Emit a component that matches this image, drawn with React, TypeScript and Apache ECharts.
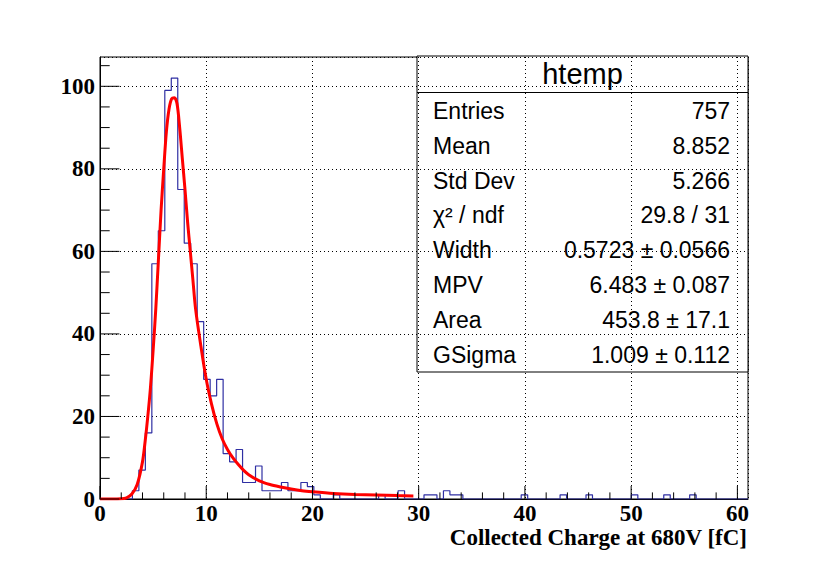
import React, { useEffect, useRef } from 'react';
import * as echarts from 'echarts';

// Histogram: 100 bins from 0 to 61 (bin width 0.61)
const binWidth = 0.61;
const binCounts = [
  0, 0, 0, 0, 0, 2, 7, 16, 57, 65,
  99, 102, 75, 62, 57, 43, 29, 25, 29, 11,
  9, 12, 4, 4, 8, 2, 2, 2, 4, 2,
  2, 4, 3, 1, 0, 0, 1, 0, 0, 0,
  0, 0, 0, 1, 0, 0, 2, 0, 0, 0,
  1, 1, 0, 2, 1, 1, 0, 0, 0, 0,
  0, 0, 0, 0, 0, 1, 0, 0, 0, 0,
  0, 1, 0, 0, 0, 1, 0, 0, 0, 0,
  0, 0, 1, 0, 0, 0, 0, 1, 0, 0,
  0, 1, 0, 0, 0, 0, 0, 0, 0, 0,
];

// Fitted curve
const fitX = [0, 1, 2, 2.5, 3, 3.5, 4, 4.25, 4.5, 4.75, 5, 5.25, 5.5, 5.75, 6, 6.25, 6.5, 6.75, 7, 7.25, 7.5, 7.75, 8, 8.25, 8.5, 8.75, 9, 9.5, 10, 10.5, 11, 11.5, 12, 12.5, 13, 13.5, 14, 15, 16, 17, 18, 19, 20, 22, 24, 26, 28, 29.5];
const fitY = [0, 0, 0.05, 0.3, 1.2, 3.5, 9, 14, 20, 27, 36, 46, 58, 70, 80, 89, 94.5, 97, 97.2, 95.8, 90, 82.5, 75, 67, 60, 53, 46, 37, 29, 23, 18.2, 14.6, 12, 10, 8.4, 7, 5.9, 4.4, 3.5, 2.9, 2.4, 2.0, 1.75, 1.35, 1.1, 0.95, 0.82, 0.74];

const xMin = 0;
const xMax = 61;
const yMin = 0;
const yMax = 107.1;
const xMajorTicks = [0, 10, 20, 30, 40, 50, 60];
const xMinorTicks = [2, 4, 6, 8, 12, 14, 16, 18, 22, 24, 26, 28, 32, 34, 36, 38, 42, 44, 46, 48, 52, 54, 56, 58];
const yMajorTicks = [0, 20, 40, 60, 80, 100];
const yMinorTicks = [5, 10, 15, 25, 30, 35, 45, 50, 55, 65, 70, 75, 85, 90, 95, 105];

const xTitle = 'Collected Charge at 680V [fC]';
const statsTitle = 'htemp';
const statLabels = ['Entries', 'Mean', 'Std Dev', 'χ² / ndf', 'Width', 'MPV', 'Area', 'GSigma'];
const statValues = ['757', '8.852', '5.266', '29.8 / 31', '0.5723 ± 0.0566', '6.483 ± 0.087', '453.8 ± 17.1', '1.009 ± 0.112'];

const histColor = '#2f2fa3';
const fitColor = '#ff0000';

function tickSeries(values: number[], dir: 'x' | 'y', len: number) {
  return {
    type: 'custom',
    silent: true,
    z: 5,
    data: values.map((v) => (dir === 'x' ? [v, 0] : [0, v])),
    encode: { x: 0, y: 1 },
    renderItem: (params: any, api: any) => {
      const p = api.coord([api.value(0), api.value(1)]);
      const shape =
        dir === 'x'
          ? { x1: p[0], y1: p[1], x2: p[0], y2: p[1] - len }
          : { x1: p[0], y1: p[1], x2: p[0] + len, y2: p[1] };
      return { type: 'line', shape, style: { stroke: '#000', lineWidth: 1 } };
    },
  };
}

export default function App() {
  const ref = useRef<HTMLDivElement>(null);

  useEffect(() => {
    if (!ref.current) return;
    const chart = echarts.init(ref.current, undefined, { renderer: 'svg' });

    const histData: number[][] = binCounts.map((c, i) => [i * binWidth, c]);
    histData.push([binCounts.length * binWidth, 0]);
    const fitData = fitX.map((x, i) => [x, fitY[i]]);

    const axisFont = {
      fontFamily: 'Liberation Serif',
      fontWeight: 'bold' as const,
      fontSize: 23,
      color: '#000',
    };

    const statsTop = 56;
    const statsLeft = 417;
    const statsRight = 748;
    const statsBottom = 372;
    const titleLineY = 92.5;
    const rowStart = 111;
    const rowStep = 34.8;
    const statFont = 23;

    const statTexts: any[] = [];
    statLabels.forEach((lab, i) => {
      statTexts.push({
        type: 'text',
        x: 433,
        y: rowStart + i * rowStep,
        style: {
          text: lab,
          fontFamily: 'Liberation Sans',
          fontSize: statFont,
          fill: '#000',
          align: 'left',
          verticalAlign: 'middle',
        },
      });
      statTexts.push({
        type: 'text',
        x: 730,
        y: rowStart + i * rowStep,
        style: {
          text: statValues[i],
          fontFamily: 'Liberation Sans',
          fontSize: statFont,
          fill: '#000',
          align: 'right',
          verticalAlign: 'middle',
        },
      });
    });

    chart.setOption({
      animation: false,
      backgroundColor: '#fff',
      grid: {
        left: 100,
        right: 82,
        top: 57,
        bottom: 68,
        show: true,
        borderColor: '#000',
        borderWidth: 1,
        backgroundColor: 'transparent',
      },
      xAxis: {
        type: 'value',
        min: xMin,
        max: xMax,
        interval: 10,
        axisLine: { show: true, lineStyle: { color: '#000', width: 1 } },
        axisTick: { show: false },
        axisLabel: { ...axisFont, margin: 6, lineHeight: 16, showMaxLabel: false, showMinLabel: true },
        splitLine: { show: true, lineStyle: { color: '#000', width: 1, type: [1, 3] } },
      },
      yAxis: {
        type: 'value',
        min: yMin,
        max: yMax,
        interval: 20,
        axisLine: { show: true, lineStyle: { color: '#000', width: 1 } },
        axisTick: { show: false },
        axisLabel: { ...axisFont, margin: 5, showMaxLabel: false, showMinLabel: true, padding: [4, 0, 0, 0] },
        splitLine: { show: true, lineStyle: { color: '#000', width: 1, type: [1, 3] } },
      },
      series: [
        {
          type: 'line',
          data: histData,
          step: 'end',
          symbol: 'none',
          lineStyle: { color: histColor, width: 1.2 },
          z: 3,
        },
        {
          type: 'line',
          data: fitData,
          smooth: 0.3,
          symbol: 'none',
          lineStyle: { color: fitColor, width: 3 },
          z: 4,
        },
        tickSeries(xMajorTicks, 'x', 13),
        tickSeries(xMinorTicks, 'x', 6.6),
        tickSeries(yMajorTicks, 'y', 19.4),
        tickSeries(yMinorTicks, 'y', 9.7),
      ],
      graphic: [
        {
          type: 'group',
          z: 100,
          children: [
            {
              type: 'rect',
              shape: { x: statsLeft, y: statsTop, width: statsRight - statsLeft, height: statsBottom - statsTop },
              style: { fill: '#fff', stroke: '#000', lineWidth: 1 },
            },
            {
              type: 'line',
              shape: { x1: statsLeft, y1: titleLineY, x2: statsRight, y2: titleLineY },
              style: { stroke: '#000', lineWidth: 1 },
            },
            {
              type: 'text',
              x: (statsLeft + statsRight) / 2,
              y: 73.5,
              style: {
                text: statsTitle,
                fontFamily: 'Liberation Sans',
                fontSize: 29,
                fill: '#000',
                align: 'center',
                verticalAlign: 'middle',
              },
            },
            ...statTexts,
          ],
        },
        {
          type: 'text',
          z: 100,
          x: 747,
          y: 537,
          style: {
            text: xTitle,
            fontFamily: 'Liberation Serif',
            fontWeight: 'bold',
            fontSize: 23,
            lineHeight: 20,
            fill: '#000',
            align: 'right',
            verticalAlign: 'middle',
          },
        },
      ],
    });

    return () => {
      chart.dispose();
    };
  }, []);

  return (
    <div
      ref={ref}
      style={{ position: 'absolute', left: 0, top: 0, width: 830, height: 567 }}
    />
  );
}
